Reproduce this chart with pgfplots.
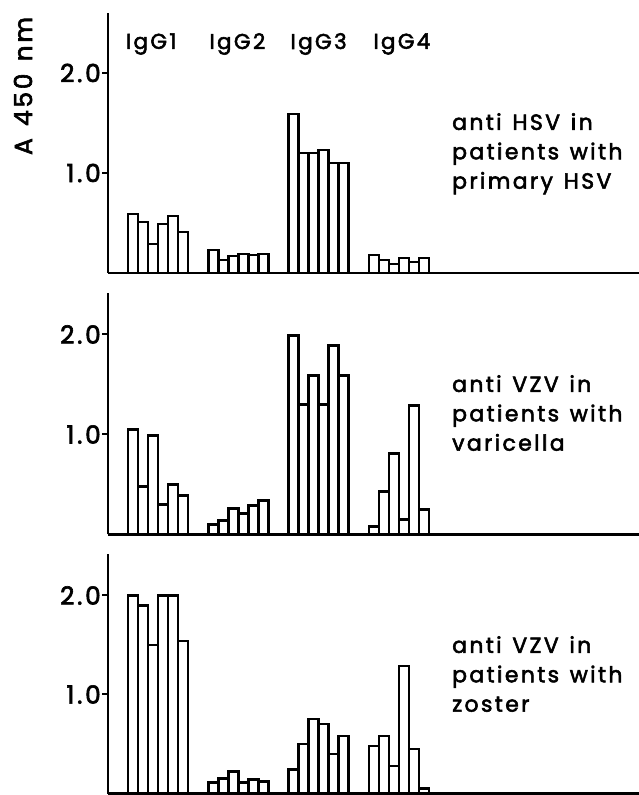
\documentclass[border=0pt]{standalone}
\usepackage{fontspec}
\setmainfont{Poppins}[LetterSpace=11, FakeBold=2.5, WordSpace=1.3]
\usepackage{pgfplots}
\pgfplotsset{compat=1.18}
\usepackage{pgfplotstable}

% bar centres: group g (IgG1..IgG4), subject i -> x = 2.5 + 8g + i
\pgfplotstableread{
x y
2.5 0.59
3.5 0.51
4.5 0.29
5.5 0.49
6.5 0.57
7.5 0.41
10.5 0.23
11.5 0.13
12.5 0.17
13.5 0.19
14.5 0.18
15.5 0.19
18.5 1.59
19.5 1.20
20.5 1.20
21.5 1.23
22.5 1.10
23.5 1.10
26.5 0.18
27.5 0.13
28.5 0.09
29.5 0.15
30.5 0.11
31.5 0.15
}\dataHSV

\pgfplotstableread{
x y
2.5 1.05
3.5 0.48
4.5 0.99
5.5 0.30
6.5 0.50
7.5 0.39
10.5 0.10
11.5 0.14
12.5 0.26
13.5 0.21
14.5 0.29
15.5 0.34
18.5 1.99
19.5 1.30
20.5 1.59
21.5 1.30
22.5 1.89
23.5 1.59
26.5 0.08
27.5 0.43
28.5 0.81
29.5 0.15
30.5 1.29
31.5 0.25
}\dataVar

\pgfplotstableread{
x y
2.5 2.00
3.5 1.90
4.5 1.50
5.5 2.00
6.5 2.00
7.5 1.54
10.5 0.11
11.5 0.15
12.5 0.22
13.5 0.11
14.5 0.14
15.5 0.12
18.5 0.24
19.5 0.50
20.5 0.75
21.5 0.70
22.5 0.40
23.5 0.58
26.5 0.48
27.5 0.58
28.5 0.28
29.5 1.29
30.5 0.45
31.5 0.05
}\dataZos

\pgfplotsset{
  panel/.style={
    x=10.03bp, xmin=0, xmax=53.1, ymin=0,
    anchor=south west,
    axis x line=bottom, axis y line=left,
    axis line style={-, line width=2.6bp, black},
    xtick=\empty, ytick={1,2}, yticklabels={1.0,2.0},
    tick align=outside, major tick length=6bp,
    tick style={line width=2bp, black},
    yticklabel style={font=\fontsize{25}{25}\selectfont, inner sep=1bp},
    /pgf/number format/assume math mode=true,
    clip=false,
  },
  bars/.style={ybar, bar width=1, bar shift=0pt, fill=white, draw=black, line width=2.5bp},
}

\begin{document}
\begin{tikzpicture}
\path[use as bounding box] (0,0) rectangle (639bp,795bp);

\begin{axis}[panel, y=100bp, ymax=2.6, at={(108bp,522bp)}]
  \addplot[bars] table {\dataHSV};
  \node[font=\fontsize{21.5}{21.5}\selectfont] at (axis cs:4.3,2.29) {IgG1};
  \node[font=\fontsize{21.5}{21.5}\selectfont] at (axis cs:12.9,2.29) {IgG2};
  \node[font=\fontsize{21.5}{21.5}\selectfont] at (axis cs:21.0,2.29) {IgG3};
  \node[font=\fontsize{21.5}{21.5}\selectfont] at (axis cs:29.3,2.29) {IgG4};
\end{axis}

\begin{axis}[panel, y=100bp, ymax=2.41, at={(108bp,260.5bp)}]
  \addplot[bars] table {\dataVar};
\end{axis}

\begin{axis}[panel, y=99bp, ymax=2.42, at={(108bp,1.5bp)}]
  \addplot[bars] table {\dataZos};
\end{axis}

\node[rotate=90, font=\fontsize{25}{25}\selectfont] at (23bp,709bp) {A 450 nm};

\node[anchor=north west, align=left, inner sep=0pt, font=\fontsize{22}{29.5}\selectfont] at (452bp,682bp) {anti HSV in\\patients with\\primary HSV};
\node[anchor=north west, align=left, inner sep=0pt, font=\fontsize{22}{29.5}\selectfont] at (452bp,420bp) {anti VZV in\\patients with\\varicella};
\node[anchor=north west, align=left, inner sep=0pt, font=\fontsize{22}{29.5}\selectfont] at (452bp,159bp) {anti VZV in\\patients with\\zoster};
\end{tikzpicture}
\end{document}
